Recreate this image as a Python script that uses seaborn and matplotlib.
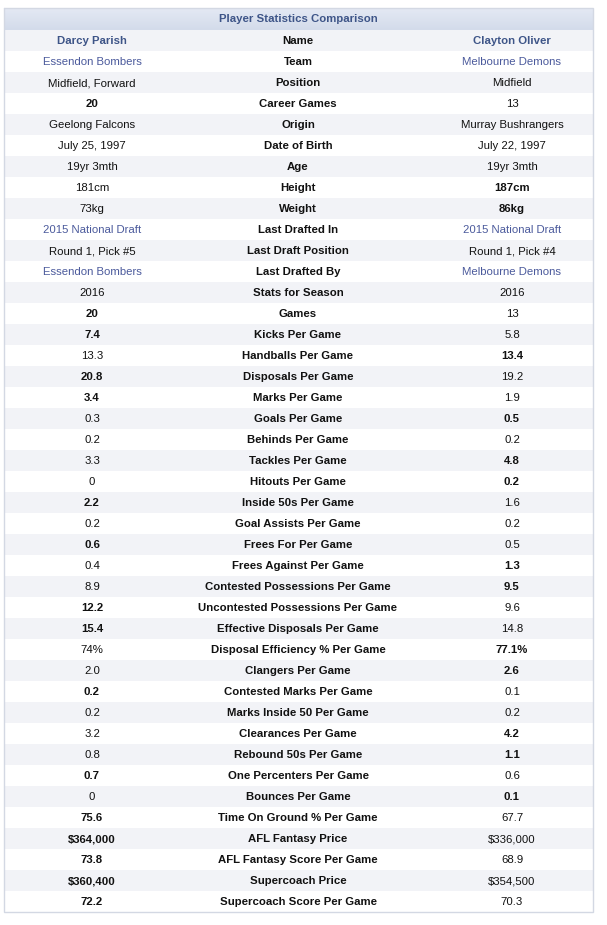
import numpy as np
import matplotlib
matplotlib.use("Agg")
import matplotlib.pyplot as plt
import seaborn as sns

title = "Player Statistics Comparison"
labels = ["Name", "Team", "Position", "Career Games", "Origin", "Date of Birth", "Age",
          "Height", "Weight", "Last Drafted In", "Last Draft Position", "Last Drafted By",
          "Stats for Season", "Games", "Kicks Per Game", "Handballs Per Game",
          "Disposals Per Game", "Marks Per Game", "Goals Per Game", "Behinds Per Game",
          "Tackles Per Game", "Hitouts Per Game", "Inside 50s Per Game",
          "Goal Assists Per Game", "Frees For Per Game", "Frees Against Per Game",
          "Contested Possessions Per Game", "Uncontested Possessions Per Game",
          "Effective Disposals Per Game", "Disposal Efficiency % Per Game",
          "Clangers Per Game", "Contested Marks Per Game", "Marks Inside 50 Per Game",
          "Clearances Per Game", "Rebound 50s Per Game", "One Percenters Per Game",
          "Bounces Per Game", "Time On Ground % Per Game", "AFL Fantasy Price",
          "AFL Fantasy Score Per Game", "Supercoach Price", "Supercoach Score Per Game"]
left_vals = ["Darcy Parish", "Essendon Bombers", "Midfield, Forward", "20", "Geelong Falcons",
             "July 25, 1997", "19yr 3mth", "181cm", "73kg", "2015 National Draft",
             "Round 1, Pick #5", "Essendon Bombers", "2016", "20", "7.4", "13.3", "20.8",
             "3.4", "0.3", "0.2", "3.3", "0", "2.2", "0.2", "0.6", "0.4", "8.9", "12.2",
             "15.4", "74%", "2.0", "0.2", "0.2", "3.2", "0.8", "0.7", "0", "75.6",
             "$364,000", "73.8", "$360,400", "72.2"]
right_vals = ["Clayton Oliver", "Melbourne Demons", "Midfield", "13", "Murray Bushrangers",
              "July 22, 1997", "19yr 3mth", "187cm", "86kg", "2015 National Draft",
              "Round 1, Pick #4", "Melbourne Demons", "2016", "13", "5.8", "13.4", "19.2",
              "1.9", "0.5", "0.2", "4.8", "0.2", "1.6", "0.2", "0.5", "1.3", "9.5", "9.6",
              "14.8", "77.1%", "2.6", "0.1", "0.2", "4.2", "1.1", "0.6", "0.1", "67.7",
              "$336,000", "68.9", "$354,500", "70.3"]
# which side is highlighted (bold): L, R, B (both), or ""
winner = ["B", "", "", "L", "", "", "", "R", "R", "", "", "", "", "L", "L", "R", "L",
          "L", "R", "", "R", "R", "L", "", "L", "R", "R", "L", "L", "R", "R", "L", "",
          "R", "R", "L", "R", "L", "L", "L", "L", "L"]
link_rows = ["Name", "Team", "Last Drafted In", "Last Drafted By"]

sns.set_theme(style="white")
plt.rcParams['font.family'] = ['Liberation Sans', 'DejaVu Sans']

W, H = 607, 925
fig = plt.figure(figsize=(W / 100, H / 100), dpi=100)
ax = fig.add_axes([0, 0, 1, 1])
ax.set_xlim(0, W)
ax.set_ylim(H, 0)
ax.axis("off")

x0, x1 = 3.5, 592.5
top, head_h, row_h = 8, 22, 21
n = len(labels)
bottom = top + head_h + n * row_h

# header gradient
grad = np.linspace(0, 1, 50)[:, None]
c_top = np.array([0.894, 0.914, 0.957])
c_bot = np.array([0.827, 0.859, 0.918])
img = c_top[None, None, :] * (1 - grad[..., None]) + c_bot[None, None, :] * grad[..., None]
img = np.repeat(img, 2, axis=1)
ax.imshow(img, extent=[x0, x1, top + head_h, top], aspect="auto", zorder=1)
ax.text((x0 + x1) / 2, top + head_h / 2 + 0.5, title, ha="center", va="center",
        fontsize=8.2, fontweight="bold", color="#3e5588", zorder=3)

# row backgrounds
ys = [top + head_h + i * row_h for i in range(n)]
colors = ["#f2f3f7" if i % 2 == 0 else "#ffffff" for i in range(n)]
ax.bar([(x0 + x1) / 2] * n, [row_h] * n, width=x1 - x0, bottom=ys, color=colors,
       align="center", linewidth=0, zorder=1)

# border
ax.plot([x0, x1, x1, x0, x0], [top, top, bottom, bottom, top], color="#d3d8e3",
        lw=1.0, zorder=4, solid_joinstyle="miter")

cx_left, cx_mid, cx_right = 92, 298, 512
for i, lab in enumerate(labels):
    yc = ys[i] + row_h / 2 + 0.5
    w = winner[i]
    name_row = lab == "Name"
    link = lab in link_rows
    col = "#3e5588" if name_row else ("#4b5a9c" if link else "#111111")
    ax.text(cx_mid, yc, lab, ha="center", va="center", fontsize=8.2,
            fontweight="bold", color="#111111", zorder=3)
    ax.text(cx_left, yc, left_vals[i], ha="center", va="center", fontsize=8.2,
            fontweight="bold" if w in ("L", "B") else "normal", color=col, zorder=3)
    ax.text(cx_right, yc, right_vals[i], ha="center", va="center", fontsize=8.2,
            fontweight="bold" if w in ("R", "B") else "normal", color=col, zorder=3)

fig.savefig("out.png", dpi=100)
